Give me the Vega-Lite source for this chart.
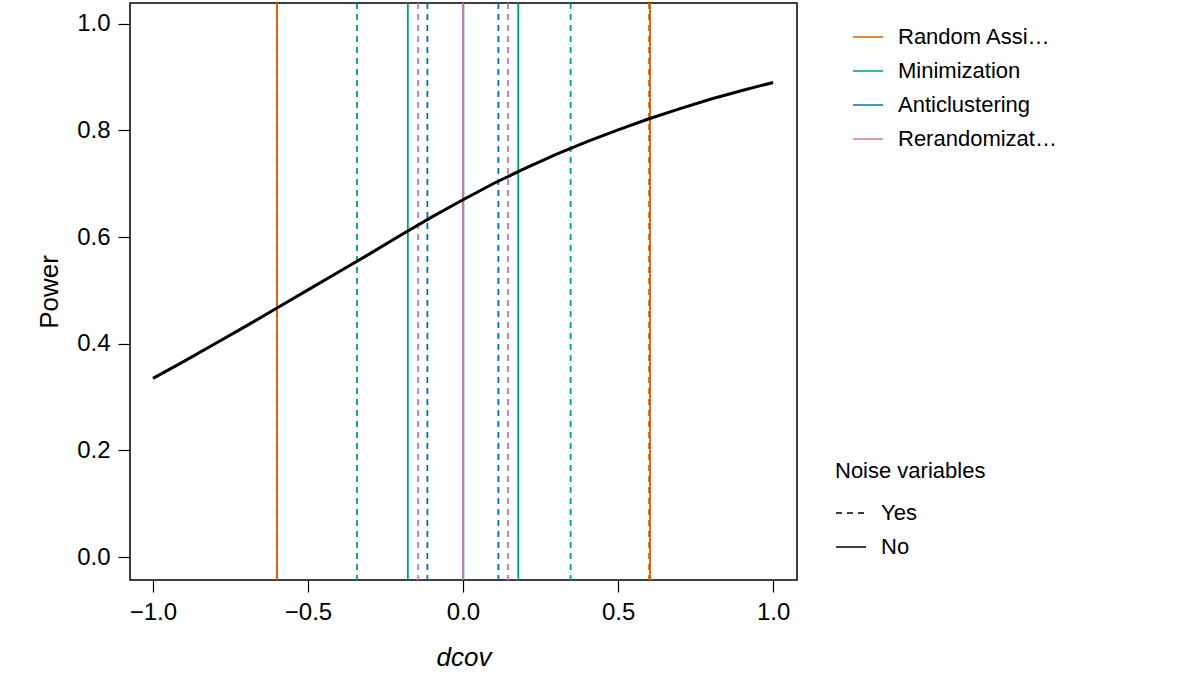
{
  "$schema": "https://vega.github.io/schema/vega-lite/v6.json",
  "width": 667,
  "height": 577,
  "autosize": "none",
  "padding": {"left": 130, "top": 3, "right": 384, "bottom": 118},
  "config": {
    "font": "Liberation Sans",
    "view": {"stroke": "black", "strokeWidth": 1.5}
  },
  "datasets": {
    "curve": [
      {"d": -1.0, "power": 0.335}, {"d": -0.9, "power": 0.367}, {"d": -0.8, "power": 0.4},
      {"d": -0.7, "power": 0.433}, {"d": -0.6, "power": 0.467}, {"d": -0.5, "power": 0.501},
      {"d": -0.4, "power": 0.535}, {"d": -0.3, "power": 0.569}, {"d": -0.2, "power": 0.604},
      {"d": -0.1, "power": 0.638}, {"d": 0.0, "power": 0.67}, {"d": 0.1, "power": 0.701},
      {"d": 0.2, "power": 0.729}, {"d": 0.3, "power": 0.755}, {"d": 0.4, "power": 0.779},
      {"d": 0.5, "power": 0.801}, {"d": 0.6, "power": 0.822}, {"d": 0.7, "power": 0.841},
      {"d": 0.8, "power": 0.859}, {"d": 0.9, "power": 0.875}, {"d": 1.0, "power": 0.89}
    ],
    "bounds": [
      {"method": "Random Assignment", "noise": "Yes", "d": -0.6},
      {"method": "Random Assignment", "noise": "Yes", "d": 0.6},
      {"method": "Random Assignment", "noise": "No", "d": -0.6},
      {"method": "Random Assignment", "noise": "No", "d": 0.603},
      {"method": "Minimization", "noise": "Yes", "d": -0.342},
      {"method": "Minimization", "noise": "Yes", "d": 0.347},
      {"method": "Minimization", "noise": "No", "d": -0.178},
      {"method": "Minimization", "noise": "No", "d": 0.178},
      {"method": "Anticlustering", "noise": "Yes", "d": -0.115},
      {"method": "Anticlustering", "noise": "Yes", "d": 0.114},
      {"method": "Anticlustering", "noise": "No", "d": 0.001},
      {"method": "Rerandomization", "noise": "Yes", "d": -0.145},
      {"method": "Rerandomization", "noise": "Yes", "d": 0.145},
      {"method": "Rerandomization", "noise": "No", "d": 0.0}
    ]
  },
  "layer": [
    {
      "data": {"name": "bounds"},
      "mark": {"type": "rule", "strokeWidth": 1.8},
      "encoding": {
        "x": {"field": "d", "type": "quantitative", "scale": {"domain": [-1.074, 1.077], "nice": false, "zero": false}},
        "color": {"field": "method", "type": "nominal",
          "scale": {"domain": ["Random Assignment", "Minimization", "Anticlustering", "Rerandomization"], "range": ["#D55E00", "#009E73", "#0072B2", "#CC79A7"]},
          "legend": {"title": null, "orient": "none", "legendX": 722, "legendY": 18, "symbolType": "stroke", "symbolSize": 900, "symbolStrokeWidth": 1.5, "labelFontSize": 22, "labelColor": "black", "rowPadding": 7, "labelOffset": 14, "padding": 0}},
        "strokeDash": {"field": "noise", "type": "nominal",
          "scale": {"domain": ["Yes", "No"], "range": [[6, 5], [1, 0]]},
          "legend": {"title": "Noise variables", "titleFontSize": 22, "titleFontWeight": "normal", "titleColor": "black", "titlePadding": 14, "orient": "none", "legendX": 705, "legendY": 458, "symbolType": "stroke", "symbolSize": 900, "symbolStrokeColor": "black", "symbolStrokeWidth": 1.5, "labelFontSize": 22, "labelColor": "black", "rowPadding": 7, "labelOffset": 14, "padding": 0, "offset": 0}}
      }
    },
    {
      "data": {"name": "curve"},
      "mark": {"type": "line", "color": "black", "strokeWidth": 3},
      "encoding": {
        "x": {"field": "d", "type": "quantitative", "title": "dcov", "axis": {"values": [-1, -0.5, 0, 0.5, 1], "format": ".1f", "grid": false, "domain": false, "tickColor": "black", "tickSize": 12, "tickWidth": 1.2, "labelFontSize": 24, "labelColor": "black", "labelPadding": 8, "titleFontSize": 26, "titleFontWeight": "normal", "titleColor": "black", "titleFontStyle": "italic", "titlePadding": 20}},
        "y": {"field": "power", "type": "quantitative", "title": "Power", "scale": {"domain": [-0.043, 1.039], "nice": false, "zero": false}, "axis": {"values": [0, 0.2, 0.4, 0.6, 0.8, 1], "format": ".1f", "grid": false, "domain": false, "tickColor": "black", "tickSize": 12, "tickWidth": 1.2, "labelFontSize": 24, "labelColor": "black", "labelPadding": 8, "titleFontSize": 26, "titleFontWeight": "normal", "titleColor": "black", "titlePadding": 14}}
      }
    }
  ]
}
